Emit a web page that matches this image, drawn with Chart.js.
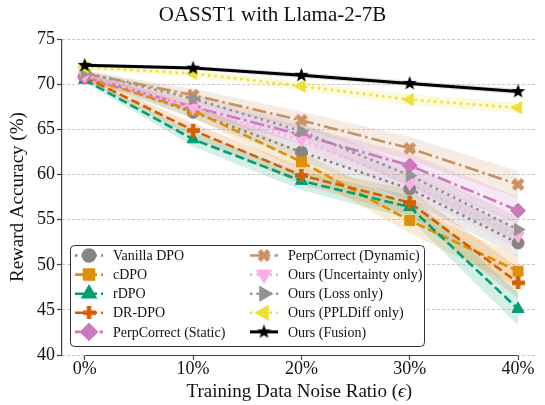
<!DOCTYPE html>
<html>
<head>
<meta charset="utf-8">
<script src="https://cdn.jsdelivr.net/npm/chart.js@4.4.1/dist/chart.umd.min.js"></script>
<style>
  html, body { margin: 0; padding: 0; background: #fff; }
  #wrap { width: 545px; height: 405px; }
</style>
</head>
<body>
<div id="wrap"><canvas id="acc-canvas" width="545" height="405"></canvas></div>
<script>
// x values (noise ratio, %) and tick labels
const noiseRatio = [0, 10, 20, 30, 40];
const xTickLabels = ['0%', '10%', '20%', '30%', '40%'];

// mean reward accuracy per method
const vanillaDPO   = [71.0, 66.9, 62.5, 58.4, 52.4];
const cDPO         = [70.8, 67.1, 61.4, 54.9, 49.3];
const rDPO         = [70.5, 63.9, 59.3, 56.4, 45.1];
const drDPO        = [70.8, 64.9, 59.9, 56.9, 48.0];
const perpStatic   = [70.8, 67.5, 64.4, 61.0, 56.0];
const perpDynamic  = [71.2, 68.8, 66.0, 62.9, 58.9];
const oursUncert   = [71.0, 67.4, 63.8, 59.0, 53.2];
const oursLoss     = [71.3, 68.4, 64.8, 59.9, 53.9];
const oursPPLDiff  = [71.9, 71.2, 69.8, 68.3, 67.4];
const oursFusion   = [72.1, 71.8, 71.0, 70.1, 69.2];

// spread (shaded band half-width)
const vanillaStd  = [0.3, 0.7, 1.0, 1.3, 1.5];
const cDPOStd     = [0.3, 0.8, 1.1, 1.4, 1.7];
const rDPOStd     = [0.3, 0.8, 1.0, 1.3, 1.8];
const drDPOStd    = [0.3, 0.8, 1.0, 1.4, 1.7];
const staticStd   = [0.3, 0.7, 1.0, 1.3, 1.5];
const dynamicStd  = [0.3, 0.7, 1.0, 1.3, 1.5];
const uncertStd   = [0.3, 0.6, 0.9, 1.2, 1.4];
const lossStd     = [0.3, 0.6, 0.9, 1.2, 1.4];
const pplStd      = [0.3, 0.4, 0.5, 0.6, 0.6];
const fusionStd   = [0.2, 0.2, 0.3, 0.3, 0.3];

const FONT = "'Liberation Serif', 'Times New Roman', serif";
const DOT = [2.5, 4];
const DASH = [9, 4];
const DASHDOT = [14, 4, 2.5, 4];

function glyph(kind, color, size) {
    const c = document.createElement('canvas');
    c.width = size; c.height = size;
    const g = c.getContext('2d');
    g.translate(size / 2, size / 2);
    g.fillStyle = color;
    g.beginPath();
    if (kind === 'star') {
        const R = size / 2, r = R * 0.42;
        for (let k = 0; k < 10; k++) {
            const a = -Math.PI / 2 + k * Math.PI / 5;
            const rr = k % 2 ? r : R;
            g.lineTo(rr * Math.cos(a), rr * Math.sin(a));
        }
    } else {
        if (kind === 'x') g.rotate(Math.PI / 4);
        const h = size / 2 * (kind === 'x' ? 0.95 : 1), t = size * 0.17;
        const pts = [[-t,-h],[t,-h],[t,-t],[h,-t],[h,t],[t,t],[t,h],[-t,h],[-t,t],[-h,t],[-h,-t],[-t,-t]];
        pts.forEach(p => g.lineTo(p[0], p[1]));
    }
    g.closePath();
    g.fill();
    return c;
}

const series = [
    {label: 'Vanilla DPO', mean: vanillaDPO, std: vanillaStd, color: '#858585', dash: DOT, style: 'circle', rot: 0, r: 6},
    {label: 'cDPO', mean: cDPO, std: cDPOStd, color: '#de8f05', dash: DASH, style: 'rect', rot: 0, r: 7},
    {label: 'rDPO', mean: rDPO, std: rDPOStd, color: '#029e73', dash: DASH, style: 'triangle', rot: 0, r: 7},
    {label: 'DR-DPO', mean: drDPO, std: drDPOStd, color: '#d55e00', dash: DASH, style: glyph('plus', '#d55e00', 13), rot: 0, r: 6},
    {label: 'PerpCorrect (Static)', mean: perpStatic, std: staticStd, color: '#cc78bc', dash: DASHDOT, style: 'rectRot', rot: 0, r: 7.5},
    {label: 'PerpCorrect (Dynamic)', mean: perpDynamic, std: dynamicStd, color: '#ca9161', dash: DASHDOT, style: glyph('x', '#ca9161', 14), rot: 0, r: 6},
    {label: 'Ours (Uncertainty only)', mean: oursUncert, std: uncertStd, color: '#fbafe4', dash: DOT, style: 'triangle', rot: 180, r: 7},
    {label: 'Ours (Loss only)', mean: oursLoss, std: lossStd, color: '#949494', dash: DOT, style: 'triangle', rot: 90, r: 7},
    {label: 'Ours (PPLDiff only)', mean: oursPPLDiff, std: pplStd, color: '#ece133', dash: DOT, style: 'triangle', rot: -90, r: 7},
    {label: 'Ours (Fusion)', mean: oursFusion, std: fusionStd, color: '#000000', dash: [], style: glyph('star', '#000000', 15), rot: 0, r: 7}
];

function alpha(hex, a) {
    const n = parseInt(hex.slice(1), 16);
    return 'rgba(' + (n >> 16) + ',' + ((n >> 8) & 255) + ',' + (n & 255) + ',' + a + ')';
}

const datasets = [];
series.forEach((s, i) => {
    datasets.push({
        data: noiseRatio.map((x, k) => ({x: x, y: s.mean[k] + s.std[k]})),
        borderWidth: 0, pointRadius: 0, fill: false, order: 200 + i
    });
    datasets.push({
        data: noiseRatio.map((x, k) => ({x: x, y: s.mean[k] - s.std[k]})),
        borderWidth: 0, pointRadius: 0, fill: '-1',
        backgroundColor: alpha(s.color === '#000000' ? '#555555' : s.color, 0.17), order: 200 + i
    });
});
series.forEach((s, i) => {
    datasets.push({
        label: s.label,
        data: noiseRatio.map((x, k) => ({x: x, y: s.mean[k]})),
        borderColor: s.color,
        backgroundColor: s.color,
        borderWidth: s.dash.length ? 2.6 : 3,
        borderDash: s.dash,
        fill: false,
        tension: 0,
        pointStyle: s.style,
        pointRotation: s.rot,
        pointRadius: s.r,
        pointBorderWidth: 1,
        pointBorderColor: s.color,
        pointBackgroundColor: s.color,
        order: 100 - i
    });
});

const extras = {
    id: 'extras',
    beforeDatasetsDraw(chart) {
        const ctx = chart.ctx, xs = chart.scales.x, ca = chart.chartArea;
        ctx.save();
        ctx.strokeStyle = '#444';
        ctx.lineWidth = 1.2;
        ctx.beginPath();
        ctx.moveTo(xs.getPixelForValue(noiseRatio[0]), ca.bottom + 0.5);
        ctx.lineTo(xs.getPixelForValue(noiseRatio[noiseRatio.length - 1]), ca.bottom + 0.5);
        ctx.stroke();
        ctx.restore();
    },
    afterDraw(chart) {
        const ctx = chart.ctx, ca = chart.chartArea;
        ctx.save();
        // axis titles
        ctx.fillStyle = '#111';
        ctx.textBaseline = 'middle';
        const parts = [['Training Data Noise Ratio (', ''], ['\u03f5', 'italic '], [')', '']];
        let total = 0;
        parts.forEach(p => { ctx.font = p[1] + '19px ' + FONT; total += ctx.measureText(p[0]).width; });
        let x = (ca.left + ca.right) / 2 - total / 2;
        parts.forEach(p => {
            ctx.font = p[1] + '19px ' + FONT;
            ctx.textAlign = 'left';
            ctx.fillText(p[0], x, 392);
            x += ctx.measureText(p[0]).width;
        });
        ctx.save();
        ctx.translate(18, (ca.top + ca.bottom) / 2);
        ctx.rotate(-Math.PI / 2);
        ctx.textAlign = 'center';
        ctx.font = '19px ' + FONT;
        ctx.fillText('Reward Accuracy (%)', 0, 0);
        ctx.restore();

        // legend box
        const bx = 70.5, by = 245.5, bw = 354, bh = 101, rad = 4;
        ctx.beginPath();
        ctx.moveTo(bx + rad, by);
        ctx.arcTo(bx + bw, by, bx + bw, by + bh, rad);
        ctx.arcTo(bx + bw, by + bh, bx, by + bh, rad);
        ctx.arcTo(bx, by + bh, bx, by, rad);
        ctx.arcTo(bx, by, bx + bw, by, rad);
        ctx.closePath();
        ctx.fillStyle = 'rgba(255,255,255,0.92)';
        ctx.fill();
        ctx.strokeStyle = '#333';
        ctx.lineWidth = 1;
        ctx.stroke();

        series.forEach((s, i) => {
            const col = i < 5 ? 0 : 1;
            const row = i % 5;
            const lx = col ? 250 : 75;
            const ly = 255.5 + row * 19.1;
            ctx.save();
            ctx.strokeStyle = s.color;
            ctx.lineWidth = s.dash.length ? 2.6 : 3;
            ctx.setLineDash(s.dash);
            ctx.beginPath();
            ctx.moveTo(lx, ly);
            ctx.lineTo(lx + 28, ly);
            ctx.stroke();
            ctx.setLineDash([]);
            ctx.fillStyle = s.color;
            Chart.helpers.drawPoint(ctx, {pointStyle: s.style, rotation: s.rot, radius: s.r, borderWidth: 1}, lx + 14, ly);
            ctx.restore();
            ctx.fillStyle = '#111';
            ctx.font = '14px ' + FONT;
            ctx.textAlign = 'left';
            ctx.textBaseline = 'middle';
            ctx.fillText(s.label, col ? 288 : 113, ly + 1);
        });
        ctx.restore();
    }
};

const acc_config = {
    type: 'line',
    data: { datasets: datasets },
    options: {
        responsive: false,
        animation: false,
        layout: { padding: { left: 0, right: 0, top: 0, bottom: 0 } },
        plugins: {
            legend: { display: false },
            tooltip: { enabled: false },
            title: {
                display: true,
                text: 'OASST1 with Llama-2-7B',
                color: '#111',
                font: { family: FONT, size: 21, weight: 'normal' },
                padding: { top: 3, bottom: 11 }
            }
        },
        scales: {
            x: {
                type: 'linear',
                min: -2.1,
                max: 41.7,
                afterBuildTicks: (s) => { s.ticks = noiseRatio.map(v => ({value: v})); },
                afterFit: (s) => { s.height = 50; },
                ticks: {
                    autoSkip: false,
                    maxRotation: 0,
                    padding: -2,
                    color: '#111',
                    font: { family: FONT, size: 18 },
                    callback: (v, idx) => xTickLabels[idx]
                },
                grid: { drawOnChartArea: false, drawTicks: true, tickLength: 5, tickColor: '#444', tickWidth: 1.2 },
                border: { display: false }
            },
            y: {
                min: 40,
                max: 75,
                afterFit: (s) => { s.width = 62; },
                ticks: {
                    stepSize: 5,
                    padding: 2,
                    color: '#111',
                    font: { family: FONT, size: 18 }
                },
                grid: { color: '#c8c8c8', lineWidth: 1, tickLength: 5, tickColor: '#444', tickWidth: 1.2 },
                border: { display: true, color: '#444', width: 1.2, dash: [3, 2] }
            }
        }
    },
    plugins: [extras]
};

const acc_ctx = document.getElementById('acc-canvas');
let acc_chart = new Chart(acc_ctx, acc_config);
</script>
</body>
</html>
